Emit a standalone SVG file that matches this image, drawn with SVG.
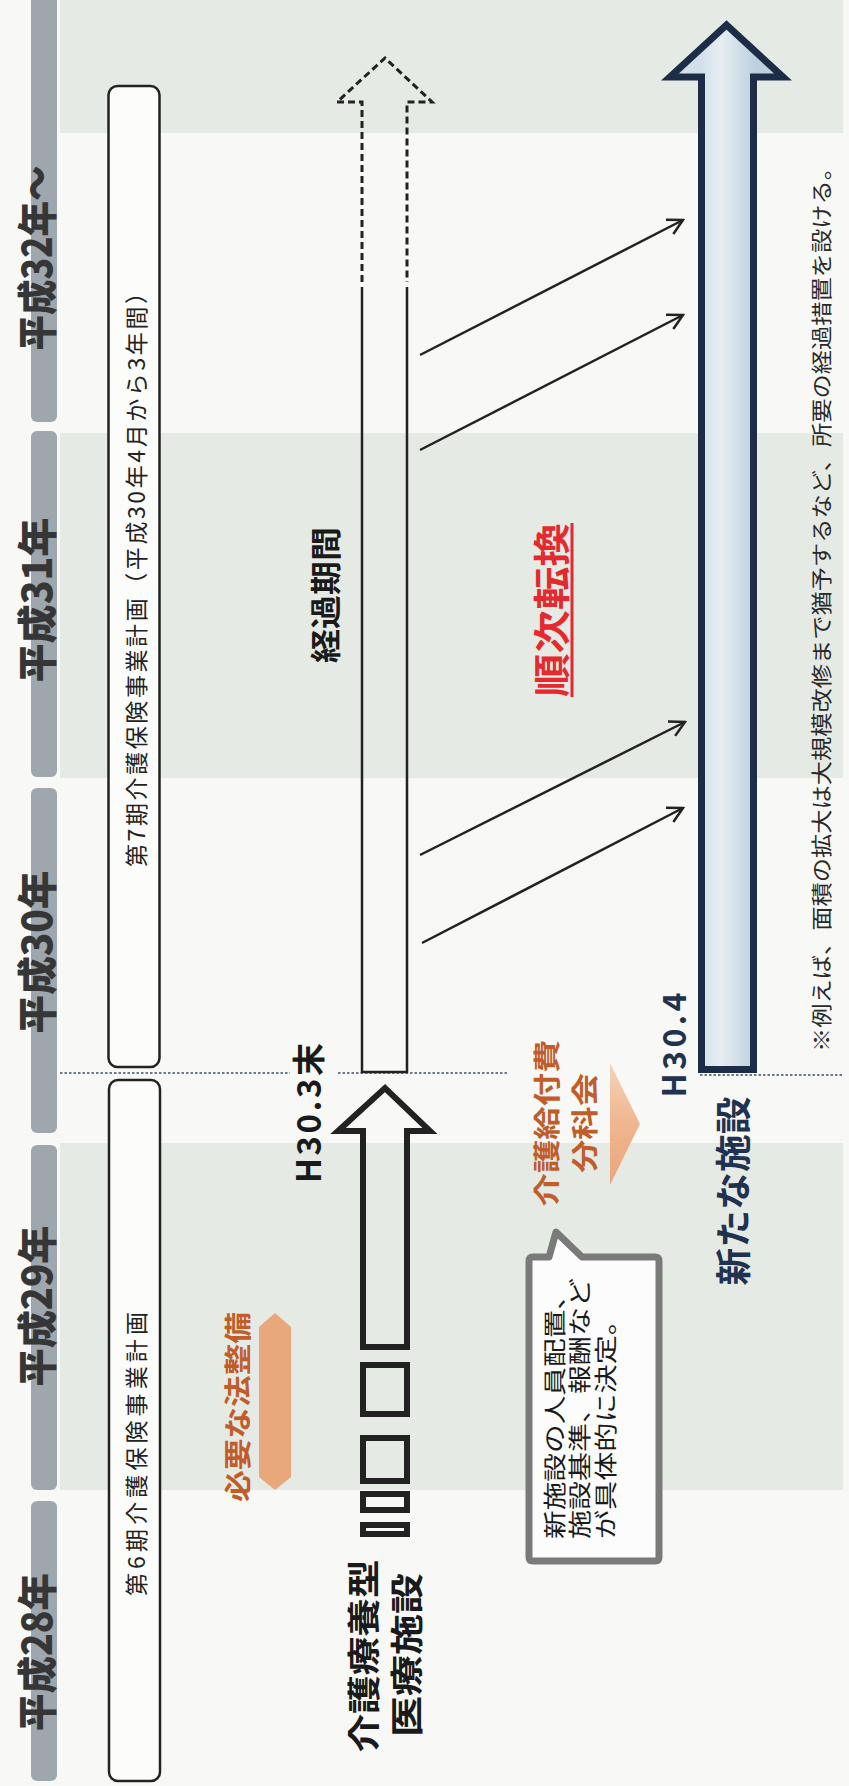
<svg xmlns="http://www.w3.org/2000/svg" width="849" height="1786" viewBox="0 0 849 1786">
<defs>
<style>
text{font-family:"Noto Sans CJK JP","Noto Sans",sans-serif;}
.yr{font-size:40px;font-weight:900;fill:#363636}
.bar{fill:#9ea6ae}
.band{fill:#e6eae4}
.plan{fill:#fcfcfb;stroke:#222;stroke-width:2.5}
.plant{font-size:23px;fill:#222}
.b{font-weight:700}
.blk{fill:#1a1a1a}
.org{fill:#c05d2a}
.navy{fill:#1f3350}
.ln{stroke:#222;stroke-width:2.5;fill:none}
.dash{stroke:#222;stroke-width:3;fill:none;stroke-dasharray:7 4}
.dot{stroke:#3d4f6e;stroke-width:1.5;stroke-dasharray:2.5 2;fill:none}
.conn{stroke:#222;stroke-width:2.5;fill:none;marker-end:url(#ah)}
.bt{font-size:23px;fill:#1a1a1a}
</style>
<linearGradient id="navyFill" x1="0" y1="0" x2="1" y2="0">
<stop offset="0.28" stop-color="#d4e0e9"/>
<stop offset="0.45" stop-color="#e7eef3"/>
<stop offset="0.75" stop-color="#bfd0dd"/>
</linearGradient>
<linearGradient id="chev" x1="0" y1="0" x2="0" y2="1">
<stop offset="0" stop-color="#f6d2b6"/>
<stop offset="0.5" stop-color="#efb68f"/>
<stop offset="1" stop-color="#eaa67b"/>
</linearGradient>
<marker id="ah" viewBox="0 0 20 20" refX="18" refY="10" markerWidth="20" markerHeight="20" markerUnits="userSpaceOnUse" orient="auto">
<path d="M3,2 L18,10 L3,18" fill="none" stroke="#222" stroke-width="2.5"/>
</marker>
</defs>

<rect width="849" height="1786" fill="#f8f8f6"/>

<g id="bands">
<rect class="band" x="60" y="0" width="783" height="133"/>
<rect class="band" x="60" y="433" width="783" height="345"/>
<rect class="band" x="60" y="1143" width="783" height="347"/>
</g>

<g id="years">
<rect class="bar" x="31" y="-10" width="26" height="432" rx="6"/>
<rect class="bar" x="31" y="431" width="26" height="346" rx="6"/>
<rect class="bar" x="31" y="788" width="26" height="345" rx="6"/>
<rect class="bar" x="31" y="1145" width="26" height="345" rx="6"/>
<rect class="bar" x="31" y="1501" width="26" height="280" rx="6"/>
<text class="yr" transform="translate(35,258) rotate(-90)" text-anchor="middle" dominant-baseline="central" textLength="185" lengthAdjust="spacingAndGlyphs">平成32年〜</text>
<text class="yr" transform="translate(35,600) rotate(-90)" text-anchor="middle" dominant-baseline="central" textLength="165" lengthAdjust="spacingAndGlyphs">平成31年</text>
<text class="yr" transform="translate(35,952) rotate(-90)" text-anchor="middle" dominant-baseline="central" textLength="163" lengthAdjust="spacingAndGlyphs">平成30年</text>
<text class="yr" transform="translate(35,1306) rotate(-90)" text-anchor="middle" dominant-baseline="central" textLength="161" lengthAdjust="spacingAndGlyphs">平成29年</text>
<text class="yr" transform="translate(35,1652) rotate(-90)" text-anchor="middle" dominant-baseline="central" textLength="158" lengthAdjust="spacingAndGlyphs">平成28年</text>
</g>

<g id="plan7">
<rect class="plan" x="108.5" y="86" width="51" height="981" rx="9"/>
<text class="plant" transform="translate(135,574) rotate(-90)" text-anchor="middle" dominant-baseline="central" textLength="586" lengthAdjust="spacing">第7期介護保険事業計画（平成30年4月から3年間）</text>
</g>
<g id="plan6">
<rect class="plan" x="109" y="1080" width="51" height="701" rx="9"/>
<text class="plant" transform="translate(135,1454) rotate(-90)" text-anchor="middle" dominant-baseline="central" textLength="284" lengthAdjust="spacing">第6期介護保険事業計画</text>
</g>

<g id="divider">
<line class="dot" x1="60" y1="1073" x2="290" y2="1073"/>
<line class="dot" x1="338" y1="1073" x2="509" y2="1073"/>
<line class="dot" x1="700" y1="1075" x2="842" y2="1075"/>
</g>

<g id="transition-bar">
<path class="dash" d="M362,282 V102 H337 L385,58 L432,102 H407 V282"/>
<path class="ln" d="M362,287 V1072 H407 V287"/>
<text class="b blk" font-size="31" transform="translate(323,595) rotate(-90)" text-anchor="middle" dominant-baseline="central" textLength="136" lengthAdjust="spacingAndGlyphs">経過期間</text>
</g>

<g id="connectors">
<line class="conn" x1="420" y1="355" x2="683" y2="220"/>
<line class="conn" x1="420" y1="450" x2="683" y2="315"/>
<line class="conn" x1="420" y1="855" x2="685" y2="722"/>
<line class="conn" x1="422" y1="943" x2="683" y2="808"/>
</g>

<g id="conversion">
<text class="b" fill="#e42a2e" font-size="37" transform="translate(550,610) rotate(-90)" text-anchor="middle" dominant-baseline="central" textLength="174" lengthAdjust="spacingAndGlyphs">順次転換</text>
<line x1="572" y1="523" x2="572" y2="697" stroke="#e42a2e" stroke-width="3"/>
</g>

<g id="new-facility">
<path d="M701.5,1069.5 V77 H670 L726.5,25 L783,77 H753.5 V1069.5 Z" fill="url(#navyFill)" stroke="#1c2d48" stroke-width="7"/>
<text class="b navy" font-size="32" transform="translate(672,1045) rotate(-90)" text-anchor="middle" dominant-baseline="central" textLength="105" lengthAdjust="spacing">H30.4</text>
<text class="b navy" font-size="36" transform="translate(731,1191) rotate(-90)" text-anchor="middle" dominant-baseline="central" textLength="189" lengthAdjust="spacingAndGlyphs">新たな施設</text>
</g>

<g id="footnote">
<text font-size="21" fill="#2a2a2a" transform="translate(820,1052) rotate(-90)" dominant-baseline="central" textLength="896" lengthAdjust="spacingAndGlyphs">※例えば、面積の拡大は大規模改修まで猶予するなど、所要の経過措置を設ける。</text>
</g>

<g id="old-facility">
<path d="M363,1347 V1131 H338 L385,1088 L430,1131 H407 V1347 Z" fill="none" stroke="#222" stroke-width="6"/>
<rect x="363" y="1365" width="44" height="49" fill="none" stroke="#222" stroke-width="6"/>
<rect x="363" y="1438" width="44" height="43" fill="none" stroke="#222" stroke-width="6"/>
<rect x="363" y="1494" width="44" height="16" fill="none" stroke="#222" stroke-width="6"/>
<rect x="363" y="1525" width="44" height="9" fill="none" stroke="#222" stroke-width="6"/>
<text class="b blk" font-size="33" transform="translate(307,1113) rotate(-90)" text-anchor="middle" dominant-baseline="central" textLength="140" lengthAdjust="spacing">H30.3末</text>
<text class="b blk" font-size="33" transform="translate(362,1656) rotate(-90)" text-anchor="middle" dominant-baseline="central" textLength="193" lengthAdjust="spacingAndGlyphs">介護療養型</text>
<text class="b blk" font-size="33" transform="translate(405,1655) rotate(-90)" text-anchor="middle" dominant-baseline="central" textLength="164" lengthAdjust="spacingAndGlyphs">医療施設</text>
</g>

<g id="legal">
<polygon points="275,1313 291,1327 291,1477 275,1490 259,1477 259,1327" fill="#e9a77c"/>
<text class="b org" font-size="27" transform="translate(236,1407) rotate(-90)" text-anchor="middle" dominant-baseline="central" textLength="190" lengthAdjust="spacingAndGlyphs">必要な法整備</text>
</g>

<g id="subcommittee">
<polygon points="610,1063 640,1124 610,1185" fill="url(#chev)"/>
<text class="b org" font-size="27" transform="translate(545,1123) rotate(-90)" text-anchor="middle" dominant-baseline="central" textLength="167" lengthAdjust="spacingAndGlyphs">介護給付費</text>
<text class="b org" font-size="27" transform="translate(583,1123) rotate(-90)" text-anchor="middle" dominant-baseline="central" textLength="100" lengthAdjust="spacingAndGlyphs">分科会</text>
</g>

<g id="bubble">
<path d="M529,1261 Q529,1257 533,1257 H549 L556,1232 L582,1257 H655 Q659,1257 659,1261 V1557 Q659,1561 655,1561 H533 Q529,1561 529,1557 Z" fill="#fcfcfc" stroke="#7a7a7a" stroke-width="7" stroke-linejoin="round"/>
<text class="bt" transform="translate(553,1539) rotate(-90)" dominant-baseline="central" textLength="258" lengthAdjust="spacingAndGlyphs">新施設の人員配置、</text>
<text class="bt" transform="translate(578,1539) rotate(-90)" dominant-baseline="central" textLength="261" lengthAdjust="spacingAndGlyphs">施設基準、報酬など</text>
<text class="bt" transform="translate(604,1539) rotate(-90)" dominant-baseline="central" textLength="233" lengthAdjust="spacingAndGlyphs">が具体的に決定。</text>
</g>
</svg>
